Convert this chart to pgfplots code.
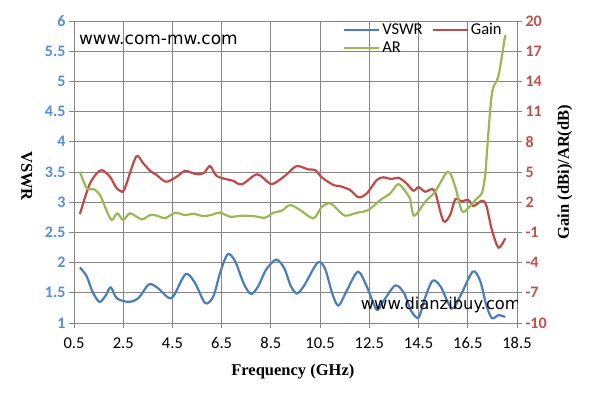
\documentclass[border=0pt]{standalone}
\usepackage{fontspec}
\usepackage{pgfplots}
\pgfplotsset{compat=1.18}
\setmainfont{Carlito}
\newfontfamily\dejavu{DejaVu Sans}
\newfontfamily\lserif{Liberation Serif}

\definecolor{vswr}{RGB}{74,126,187}
\definecolor{gain}{RGB}{190,75,72}
\definecolor{arc}{RGB}{152,185,84}
\definecolor{lblue}{RGB}{85,142,213}
\definecolor{rred}{RGB}{192,80,77}
\definecolor{gridc}{RGB}{134,134,134}

\pgfplotsset{
  base/.style={
    scale only axis, width=443pt, height=302pt,
    xmin=0.5, xmax=18.5,
    tick align=outside, major tick length=5pt,
    tick style={draw=gridc, line width=0.9pt},
    axis line style={draw=gridc, line width=0.9pt},
    /pgf/number format/assume math mode=true,
  },
  curve/.style={line width=2.2pt, smooth, tension=0.5, no markers},
}

\begin{document}
\begin{tikzpicture}
\path[use as bounding box] (-74pt,-81pt) rectangle (515pt,323pt);

\begin{axis}[base,
  xtick={0.5,2.5,...,18.5},
  ymin=1, ymax=6, ytick={1,1.5,...,6},
  xtick pos=bottom, ytick pos=left,
  grid=major, major grid style={draw=gridc, line width=0.9pt},
  xticklabel style={font=\fontsize{16.5}{16.5}\selectfont, text=black, yshift=-6pt},
  yticklabel style={font=\bfseries\fontsize{16}{16}\selectfont, text=lblue},
  xlabel={Frequency (GHz)},
  xlabel style={font=\lserif\bfseries\fontsize{16.5}{16.5}\selectfont,
    at={(axis description cs:0.494,-0.162)}, anchor=center},
  ylabel={VSWR},
  every axis y label/.style={font=\lserif\bfseries\fontsize{16.5}{16.5}\selectfont,
    at={(axis description cs:-0.107,0.487)}, anchor=center, rotate=-90},
]
\addplot[curve, vswr] coordinates {
(0.74,1.92) (1.02,1.77) (1.25,1.52) (1.53,1.35) (1.78,1.45) (1.99,1.59)
(2.24,1.41) (2.71,1.35) (3.11,1.41) (3.55,1.64) (3.93,1.57) (4.33,1.42)
(4.55,1.45) (5.04,1.81) (5.42,1.66) (5.83,1.33) (6.16,1.44) (6.45,1.85)
(6.75,2.14) (7.05,2.02) (7.40,1.65) (7.70,1.48) (8.00,1.62) (8.30,1.88)
(8.72,2.05) (9.05,1.90) (9.30,1.62) (9.56,1.49) (9.85,1.62) (10.40,2.00)
(10.70,1.90) (11.00,1.48) (11.25,1.29) (11.60,1.55) (12.04,1.85) (12.40,1.60)
(12.80,1.22) (13.05,1.35) (13.55,1.62) (13.90,1.50) (14.20,1.20) (14.50,1.09)
(14.75,1.40) (15.07,1.70) (15.40,1.60) (15.85,1.24) (16.20,1.45) (16.70,1.85)
(17.00,1.70) (17.25,1.30) (17.48,1.08) (17.75,1.13) (18.02,1.10)
};
\end{axis}

\begin{axis}[base,
  axis x line=none, axis y line*=right,
  ymin=-10, ymax=20, ytick={-10,-7,...,20},
  yticklabel style={font=\bfseries\fontsize{16}{16}\selectfont, text=rred},
  ylabel={Gain (dBi)/AR(dB)},
  every axis y label/.style={font=\lserif\bfseries\fontsize{16.5}{16.5}\selectfont,
    at={(axis description cs:1.108,0.5)}, anchor=center, rotate=90},
  legend columns=2,
  legend style={at={(0.607,1.0)}, anchor=north west, draw=none, fill=none,
    inner sep=0pt, font=\fontsize{16.5}{16.5}\selectfont, row sep=2pt,
    /tikz/every even column/.append style={column sep=7pt}},
  legend cell align=left,
  legend image code/.code={\draw[#1, line width=2.2pt] (0pt,0pt) -- (35pt,0pt);},
]
\addlegendimage{vswr}
\addlegendentry{VSWR}
\addplot[curve, gain] coordinates {
(0.74,0.82) (0.95,2.5) (1.15,3.87) (1.40,4.8) (1.63,5.19) (1.96,4.53)
(2.20,3.5) (2.37,3.14) (2.55,3.3) (3.02,6.51) (3.30,5.9) (3.59,5.12)
(3.86,4.70) (4.24,4.03) (4.67,4.53) (5.01,5.12) (5.30,4.9) (5.55,4.77)
(5.80,4.95) (6.03,5.59) (6.30,4.6) (6.84,4.2) (6.97,4.13) (7.32,3.77)
(7.95,4.77) (8.50,3.80) (8.94,4.37) (9.20,4.9) (9.55,5.59) (10.02,5.26)
(10.30,5.19) (10.57,4.47) (11.04,3.70) (11.30,3.60) (11.72,3.21) (12.06,2.48)
(12.40,2.88) (12.80,4.2) (13.07,4.47) (13.40,4.3) (13.68,4.43) (14.00,3.9)
(14.29,3.14) (14.50,3.5) (14.77,3.04) (15.05,3.3) (15.20,2.8) (15.51,0.13)
(15.78,0.72) (15.99,2.28) (16.25,2.1) (16.53,2.21) (16.73,1.62) (17.07,2.14)
(17.25,1.7) (17.48,-0.76) (17.75,-2.52) (18.02,-1.59)
};
\addlegendentry{Gain}
\addplot[curve, arc] coordinates {
(0.74,5.03) (1.02,3.38) (1.30,3.3) (1.56,2.71) (1.80,1.3) (2.03,0.23)
(2.26,0.89) (2.50,0.23) (2.78,0.89) (3.25,0.30) (3.59,0.72) (3.90,0.65)
(4.20,0.40) (4.61,0.95) (5.01,0.72) (5.35,0.85) (5.76,0.62) (6.10,0.75)
(6.43,0.97) (6.84,0.56) (7.30,0.65) (7.79,0.62) (8.26,0.46) (8.60,0.95)
(8.94,1.15) (9.28,1.72) (9.69,1.22) (10.23,0.40) (10.57,1.55) (10.91,1.89)
(11.20,1.3) (11.52,0.66) (11.99,0.95) (12.46,1.22) (12.94,2.21) (13.35,2.88)
(13.68,3.80) (14.02,2.88) (14.15,2.4) (14.32,0.66) (14.77,2.05) (15.17,3.04)
(15.69,5.03) (15.99,3.54) (16.26,1.12) (16.55,1.5) (16.87,2.38) (17.07,2.88)
(17.20,4.5) (17.28,7.0) (17.41,11.15) (17.52,13.3) (17.75,14.6) (18.02,18.6)
};
\addlegendentry{AR}
\node[anchor=west, inner sep=0pt, font=\dejavu\fontsize{17}{17}\selectfont]
  at (rel axis cs:0.011,0.937) {www.com-mw.com};
\node[anchor=east, inner sep=0pt, font=\dejavu\fontsize{16.3}{16.3}\selectfont]
  at (rel axis cs:1.009,0.06) {www.dianzibuy.com};
\end{axis}
\end{tikzpicture}
\end{document}
